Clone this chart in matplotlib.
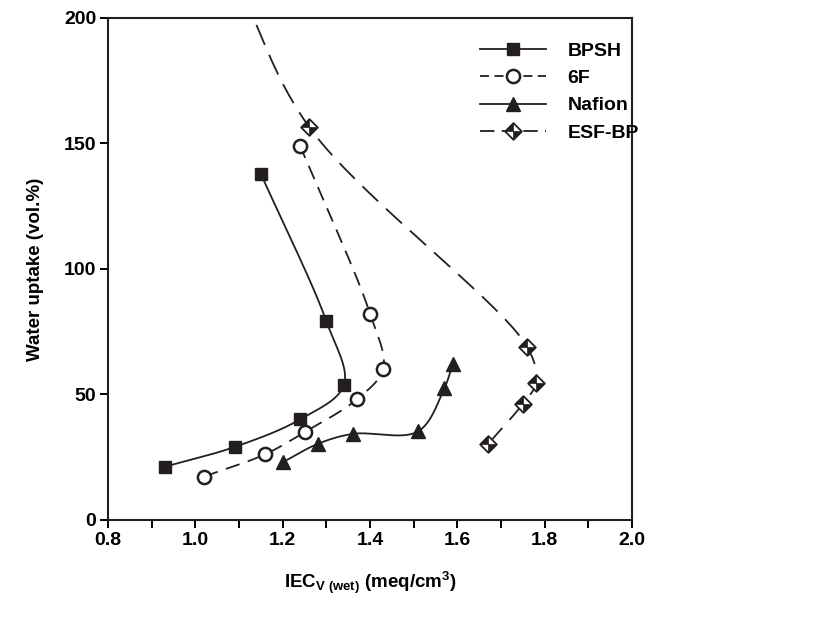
import numpy as np
import matplotlib.pyplot as plt
from matplotlib.path import Path
from matplotlib.lines import Line2D
from matplotlib.legend_handler import HandlerTuple

plt.rcParams['font.family'] = ['Liberation Sans', 'DejaVu Sans']
plt.rcParams['font.weight'] = 'bold'
plt.rcParams['mathtext.fontset'] = 'custom'
plt.rcParams['mathtext.rm'] = 'Liberation Sans:bold'
plt.rcParams['mathtext.it'] = 'Liberation Sans:bold'
plt.rcParams['mathtext.bf'] = 'Liberation Sans:bold'

# data (points in the order they are joined)
bpsh_x = [0.93, 1.09, 1.24, 1.34, 1.30, 1.15]
bpsh_y = [21.2, 29.1, 40.1, 53.7, 79.2, 137.9]

f6_x = [1.02, 1.16, 1.25, 1.37, 1.43, 1.40, 1.24]
f6_y = [17.3, 26.2, 35.0, 48.1, 60.3, 82.2, 149.0]

nafion_x = [1.20, 1.28, 1.36, 1.51, 1.57, 1.59]
nafion_y = [23.0, 30.3, 34.3, 35.3, 52.4, 62.3]

esf_x = [1.67, 1.75, 1.78, 1.76, 1.26, 1.09]
esf_y = [30.2, 46.3, 54.6, 68.9, 156.7, 217.0]

INK = '#231f20'


def smooth(x, y, n=40):
    # centripetal catmull-rom through the points, done in screen-like units
    sx, sy = 437.0, 2.51
    p = np.column_stack([np.asarray(x) * sx, np.asarray(y) * sy])
    p = np.vstack([2 * p[0] - p[1], p, 2 * p[-1] - p[-2]])
    out = []
    for i in range(1, len(p) - 2):
        p0, p1, p2, p3 = p[i - 1], p[i], p[i + 1], p[i + 2]
        t0 = 0.0
        t1 = t0 + np.linalg.norm(p1 - p0) ** 0.5
        t2 = t1 + np.linalg.norm(p2 - p1) ** 0.5
        t3 = t2 + np.linalg.norm(p3 - p2) ** 0.5
        t = np.linspace(t1, t2, n)[:, None]
        a1 = (t1 - t) / (t1 - t0) * p0 + (t - t0) / (t1 - t0) * p1
        a2 = (t2 - t) / (t2 - t1) * p1 + (t - t1) / (t2 - t1) * p2
        a3 = (t3 - t) / (t3 - t2) * p2 + (t - t2) / (t3 - t2) * p3
        b1 = (t2 - t) / (t2 - t0) * a1 + (t - t0) / (t2 - t0) * a2
        b2 = (t3 - t) / (t3 - t1) * a2 + (t - t1) / (t3 - t1) * a3
        c = (t2 - t) / (t2 - t1) * b1 + (t - t1) / (t2 - t1) * b2
        out.append(c if i == 1 else c[1:])
    c = np.vstack(out)
    return c[:, 0] / sx, c[:, 1] / sy


diamond = Path([(0, 1), (1, 0), (0, -1), (-1, 0), (0, 1)],
               [Path.MOVETO, Path.LINETO, Path.LINETO, Path.LINETO, Path.CLOSEPOLY])
quads = Path([(-1, 0), (0, 1), (0, 0), (-1, 0), (1, 0), (0, -1), (0, 0), (1, 0)],
             [Path.MOVETO, Path.LINETO, Path.LINETO, Path.CLOSEPOLY,
              Path.MOVETO, Path.LINETO, Path.LINETO, Path.CLOSEPOLY])

fig = plt.figure(figsize=(8.38, 6.2), dpi=100)
ax = fig.add_axes([0.1289, 0.1613, 0.6253, 0.8097])

lw = 1.3
d6f = (8.0, 4.8)
desf = (12.0, 6.0)

cx, cy = smooth(bpsh_x, bpsh_y)
ax.plot(cx, cy, color=INK, lw=lw)
ax.plot(bpsh_x, bpsh_y, 's', color=INK, ms=9)

cx, cy = smooth(f6_x, f6_y)
ax.plot(cx, cy, color=INK, lw=lw, dashes=d6f)
ax.plot(f6_x, f6_y, 'o', mfc='white', mec=INK, mew=1.8, ms=9.5)

cx, cy = smooth(nafion_x, nafion_y)
ax.plot(cx, cy, color=INK, lw=lw)
ax.plot(nafion_x, nafion_y, '^', color=INK, ms=9.5)

cx, cy = smooth(esf_x, esf_y)
ax.plot(cx, cy, color=INK, lw=lw, dashes=desf)
ax.plot(esf_x, esf_y, ls='none', marker=diamond, mfc='white', mec=INK, mew=1.3, ms=12)
ax.plot(esf_x, esf_y, ls='none', marker=quads, mfc=INK, mec=INK, mew=0.5, ms=12)

ax.set_xlim(0.8, 2.0)
ax.set_ylim(0, 200)
ax.set_xticks(np.arange(0.8, 2.01, 0.2))
ax.set_xticks(np.arange(0.9, 2.0, 0.2), minor=True)
ax.set_yticks([0, 50, 100, 150, 200])
ax.tick_params(which='both', direction='out', length=5.5, width=1.4,
               labelsize=14, pad=3, top=False, right=False)
for lab in ax.get_xticklabels() + ax.get_yticklabels():
    lab.set_fontweight('bold')
for sp in ax.spines.values():
    sp.set_linewidth(1.5)
    sp.set_color(INK)

ax.set_ylabel('Water uptake (vol.%)', fontsize=13.5, fontweight='bold', labelpad=14)
ax.set_xlabel(r'IEC$_{\mathrm{V\ (wet)}}$ (meq/cm$^{3}$)', fontsize=13.5,
              fontweight='bold', labelpad=15)

h_bpsh = Line2D([], [], color=INK, lw=lw, marker='s', ms=9)
h_6f = Line2D([], [], color=INK, lw=lw, dashes=(5.0, 3.0), marker='o', mfc='white',
              mec=INK, mew=1.8, ms=9.5)
h_naf = Line2D([], [], color=INK, lw=lw, marker='^', ms=9.5)
h_esf1 = Line2D([], [], color=INK, lw=lw, dashes=(8.0, 4.0), marker=diamond,
                mfc='white', mec=INK, mew=1.3, ms=12)
h_esf2 = Line2D([], [], ls='none', marker=quads, mfc=INK, mec=INK, mew=0.5, ms=12)

ax.legend([h_bpsh, h_6f, h_naf, (h_esf1, h_esf2)], ['BPSH', '6F', 'Nafion', 'ESF-BP'],
          handler_map={tuple: HandlerTuple(ndivide=1)},
          loc='upper left', bbox_to_anchor=(0.71, 0.952), frameon=False,
          borderpad=0, borderaxespad=0, handlelength=3.4, handletextpad=1.1,
          labelspacing=0.5, prop={'size': 14, 'weight': 'bold'})

fig.savefig('out.png', dpi=100)
